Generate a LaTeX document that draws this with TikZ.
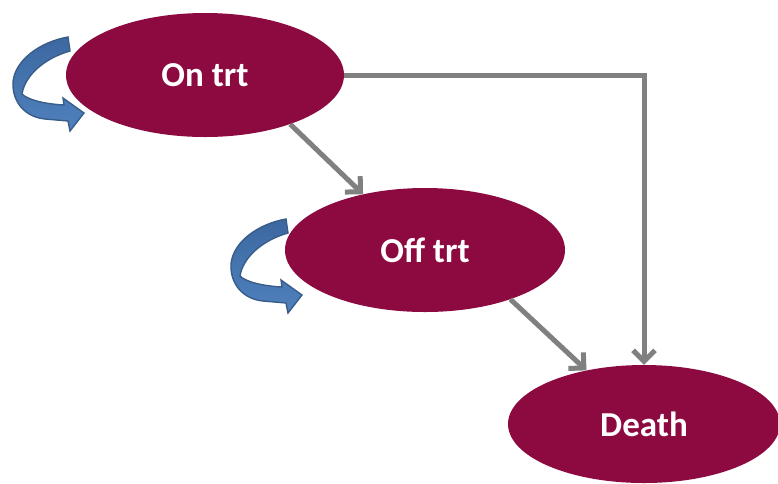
\documentclass[tikz,border=0pt]{standalone}
\usepackage{fontspec}
\setmainfont{Carlito}
\usetikzlibrary{arrows.meta,shapes.geometric}
\definecolor{maroon}{RGB}{140,10,64}
\definecolor{linegray}{RGB}{128,128,128}
\definecolor{bluefill}{RGB}{79,129,189}
\definecolor{bluedark}{RGB}{60,104,160}
\definecolor{blueedge}{RGB}{56,93,138}
\tikzset{
  state/.style={ellipse, fill=maroon, text=white, inner sep=0pt,
    font=\fontsize{35}{40}\selectfont\bfseries},
  conn/.style={draw=linegray, line width=5pt,
    -{Straight Barb[length=11pt,width=22pt,line width=5pt]}},
  loopar/.style={draw=blueedge, line width=1.4pt, top color=bluedark, bottom color=bluefill}
}
\begin{document}
\begin{tikzpicture}[x=1pt,y=1pt,yscale=-1]
\useasboundingbox (0,0) rectangle (778,483);
\node[state, minimum width=278pt, minimum height=124pt] (ontrt) at (205,75) {On trt};
\node[state, minimum width=280pt, minimum height=124pt] (offtrt) at (425,250) {Off trt};
\node[state, minimum width=272pt, minimum height=118pt, text depth=-6pt] (death) at (644,424) {Death};
\draw[conn] (ontrt.east) -| (death.north);
\draw[conn] (ontrt.-30.5) -- (offtrt.138);
\draw[conn] (offtrt.-30.5) -- (death.137.5);
\foreach \sx/\sy in {0/0, 218/182}{
  \begin{scope}[shift={(\sx,\sy)}]
    \path[loopar] (68,37) .. controls (40,42) and (15,60) .. (13,82)
      .. controls (12,102) and (25,117) .. (45,119) -- (68,121) -- (70,131)
      -- (84,113) -- (63,98) -- (64,105)
      .. controls (45,104) and (28,100) .. (22,94)
      .. controls (25,75) and (45,58) .. (70,51) -- cycle;
  \end{scope}
}
\end{tikzpicture}
\end{document}
